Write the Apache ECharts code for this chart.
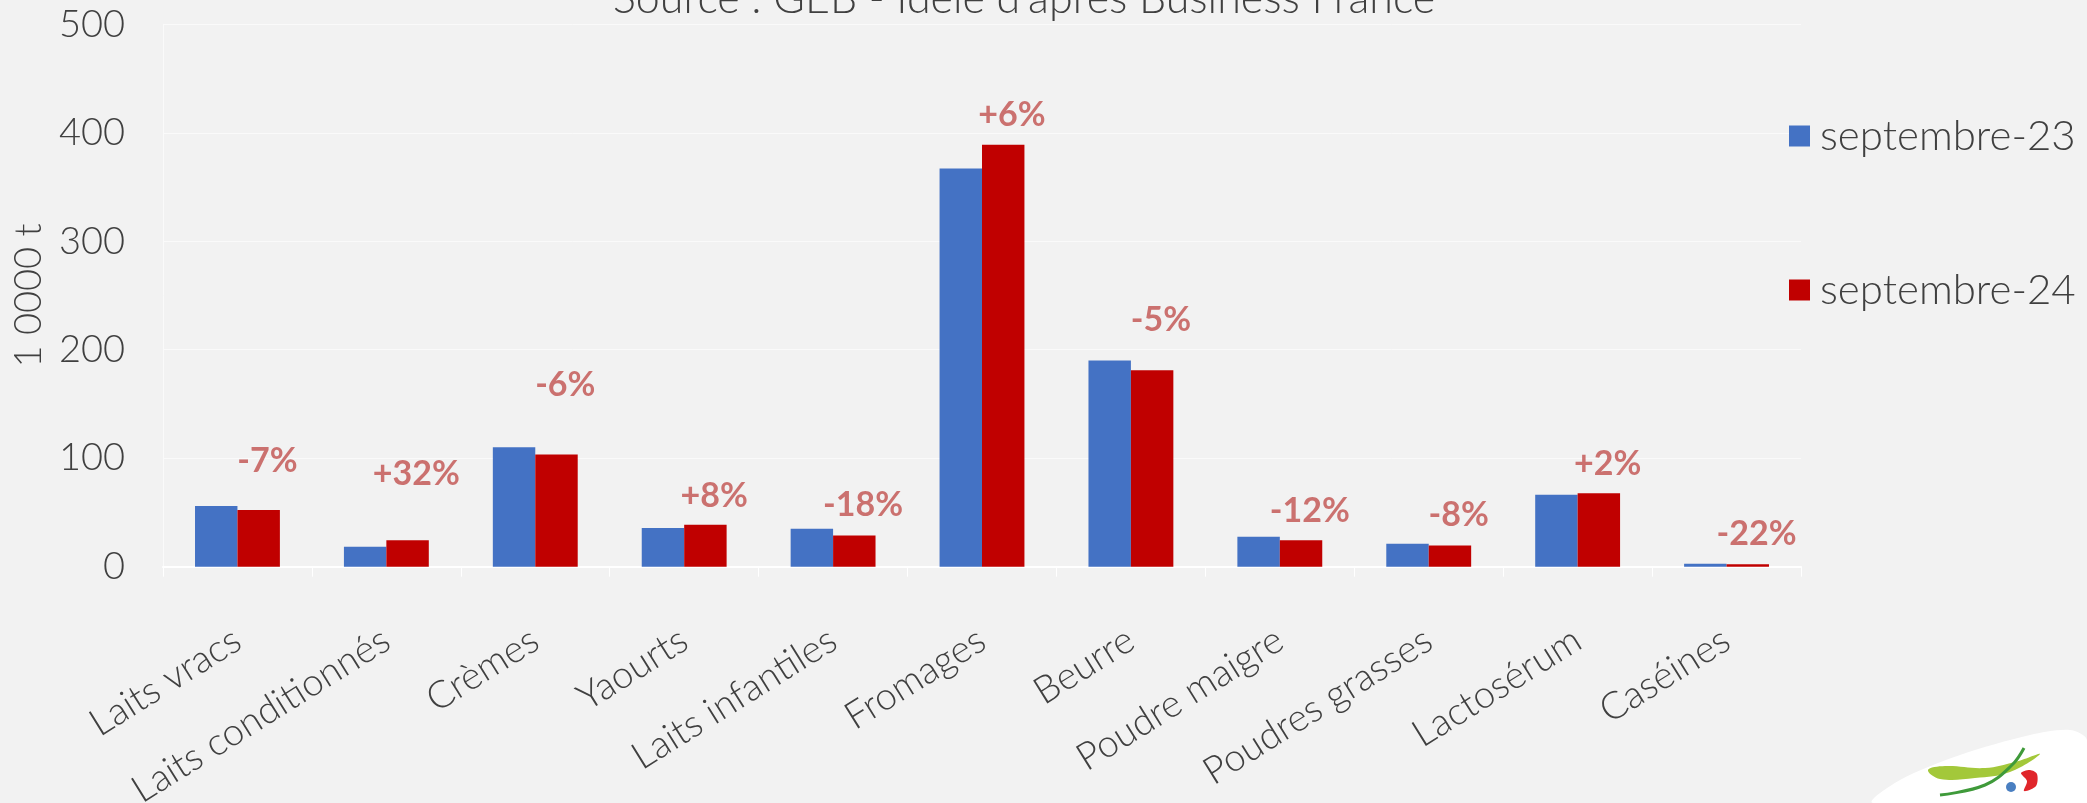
<!DOCTYPE html>
<html>
<head>
<meta charset="utf-8">
<style>
html,body{margin:0;padding:0;background:#f2f2f2;}
#c{width:2087px;height:803px;}
</style>
<script src="https://cdn.jsdelivr.net/npm/echarts@6/dist/echarts.min.js"></script>
</head>
<body>
<div id="c"></div>
<script>
const categories = ['Laits vracs','Laits conditionnés','Crèmes','Yaourts','Laits infantiles','Fromages','Beurre','Poudre maigre','Poudres grasses','Lactosérum','Caséines'];
const sept23 = [56, 18.5, 110, 35.7, 35, 367, 190, 27.6, 21.2, 66.3, 2.8];
const sept24 = [52.2, 24.4, 103.5, 38.6, 28.8, 389, 181, 24.3, 19.5, 67.8, 2.2];
const pctLabels = ['-7%','+32%','-6%','+8%','-18%','+6%','-5%','-12%','-8%','+2%','-22%'];
const pctLevel = [97, 85.5, 167.5, 65, 57, 416.5, 227.5, 51.5, 47.5, 94.7, 30.2];
const yTicks = [0, 100, 200, 300, 400, 500];

const FONT = 'Lato, "Liberation Sans", sans-serif';
const chart = echarts.init(document.getElementById('c'), null, {renderer:'canvas'});
chart.setOption({
  backgroundColor: '#f2f2f2',
  animation: false,
  title: {
    text: "Source : GEB - Idele d'après Business France",
    left: 613, top: -22, padding: 0,
    textStyle: {fontFamily: FONT, fontSize: 43, fontWeight: 300, color: '#404040'}
  },
  legend: {
    orient: 'vertical', left: 1784, top: 110, itemGap: 112,
    itemWidth: 21, itemHeight: 21, icon: 'rect',
    data: ['septembre-23','septembre-24'],
    textStyle: {fontFamily: FONT, fontSize: 42, fontWeight: 300, color: '#404040', padding: [0,0,0,5]}
  },
  grid: {left: 163, right: 286, top: 24.3, bottom: 236.3, containLabel: false, outerBoundsMode: 'none'},
  xAxis: {
    type: 'category', data: categories,
    axisLine: {show: true, lineStyle: {color: '#ffffff', width: 2}},
    axisTick: {show: true, length: 10, lineStyle: {color: '#ffffff', width: 1}},
    axisLabel: {rotate: 32, margin: 70, fontFamily: FONT, fontSize: 38, fontWeight: 300, color: '#404040', interval: 0}
  },
  yAxis: {
    type: 'value', min: 0, max: 500, interval: 100,
    name: '1 0000 t', nameLocation: 'middle', nameGap: 112, nameRotate: 90,
    nameTextStyle: {fontFamily: FONT, fontSize: 38, fontWeight: 300, color: '#404040'},
    axisLine: {show: true, lineStyle: {color: '#fafafa', width: 1}},
    axisTick: {show: false},
    splitLine: {lineStyle: {color: '#fafafa', width: 1}},
    axisLabel: {margin: 38, fontFamily: FONT, fontSize: 38, fontWeight: 300, color: '#404040',
      formatter: v => yTicks.includes(v) ? String(v) : ''}
  },
  series: [
    {name: 'septembre-23', type: 'bar', data: sept23, barGap: '0%', barCategoryGap: '43%',
      itemStyle: {color: '#4472c4'}},
    {name: 'septembre-24', type: 'bar', data: sept24, barGap: '0%', barCategoryGap: '43%',
      itemStyle: {color: '#c00000'}},
    {name: 'pct', type: 'scatter', data: pctLevel, symbolSize: 1, itemStyle: {color: 'rgba(0,0,0,0)'},
      label: {show: true, position: 'inside', offset: [30, 0], formatter: p => pctLabels[p.dataIndex],
        fontFamily: FONT, fontSize: 34, fontWeight: 'bold', color: '#c0504d'}}
  ],
  graphic: [
    {type: 'polygon', shape: {points: [[1873,803],[1900,780],[1960,755],[2030,735],[2070,730],[2087,740],[2087,803]], smooth: 0.3},
      style: {fill: '#ffffff'}, silent: true},
    {type: 'polygon', shape: {points: [[1928,770],[1945,766],[1985,768],[2015,762],[2040,754],[2010,772],[1975,778],[1940,779]], smooth: 0.4},
      style: {fill: '#a3c83a'}, silent: true},
    {type: 'polyline', shape: {points: [[1940,795],[1985,785],[2012,765],[2024,748]], smooth: 0.4},
      style: {stroke: '#3f9a3a', lineWidth: 3, fill: null}, silent: true},
    {type: 'polygon', shape: {points: [[2021,773],[2030,770],[2037,774],[2036,786],[2024,791],[2027,781]], smooth: 0.3},
      style: {fill: '#e0262b'}, silent: true},
    {type: 'circle', shape: {cx: 2011, cy: 787, r: 5}, style: {fill: '#4a7fc1'}, silent: true}
  ]
});
</script>
</body>
</html>
